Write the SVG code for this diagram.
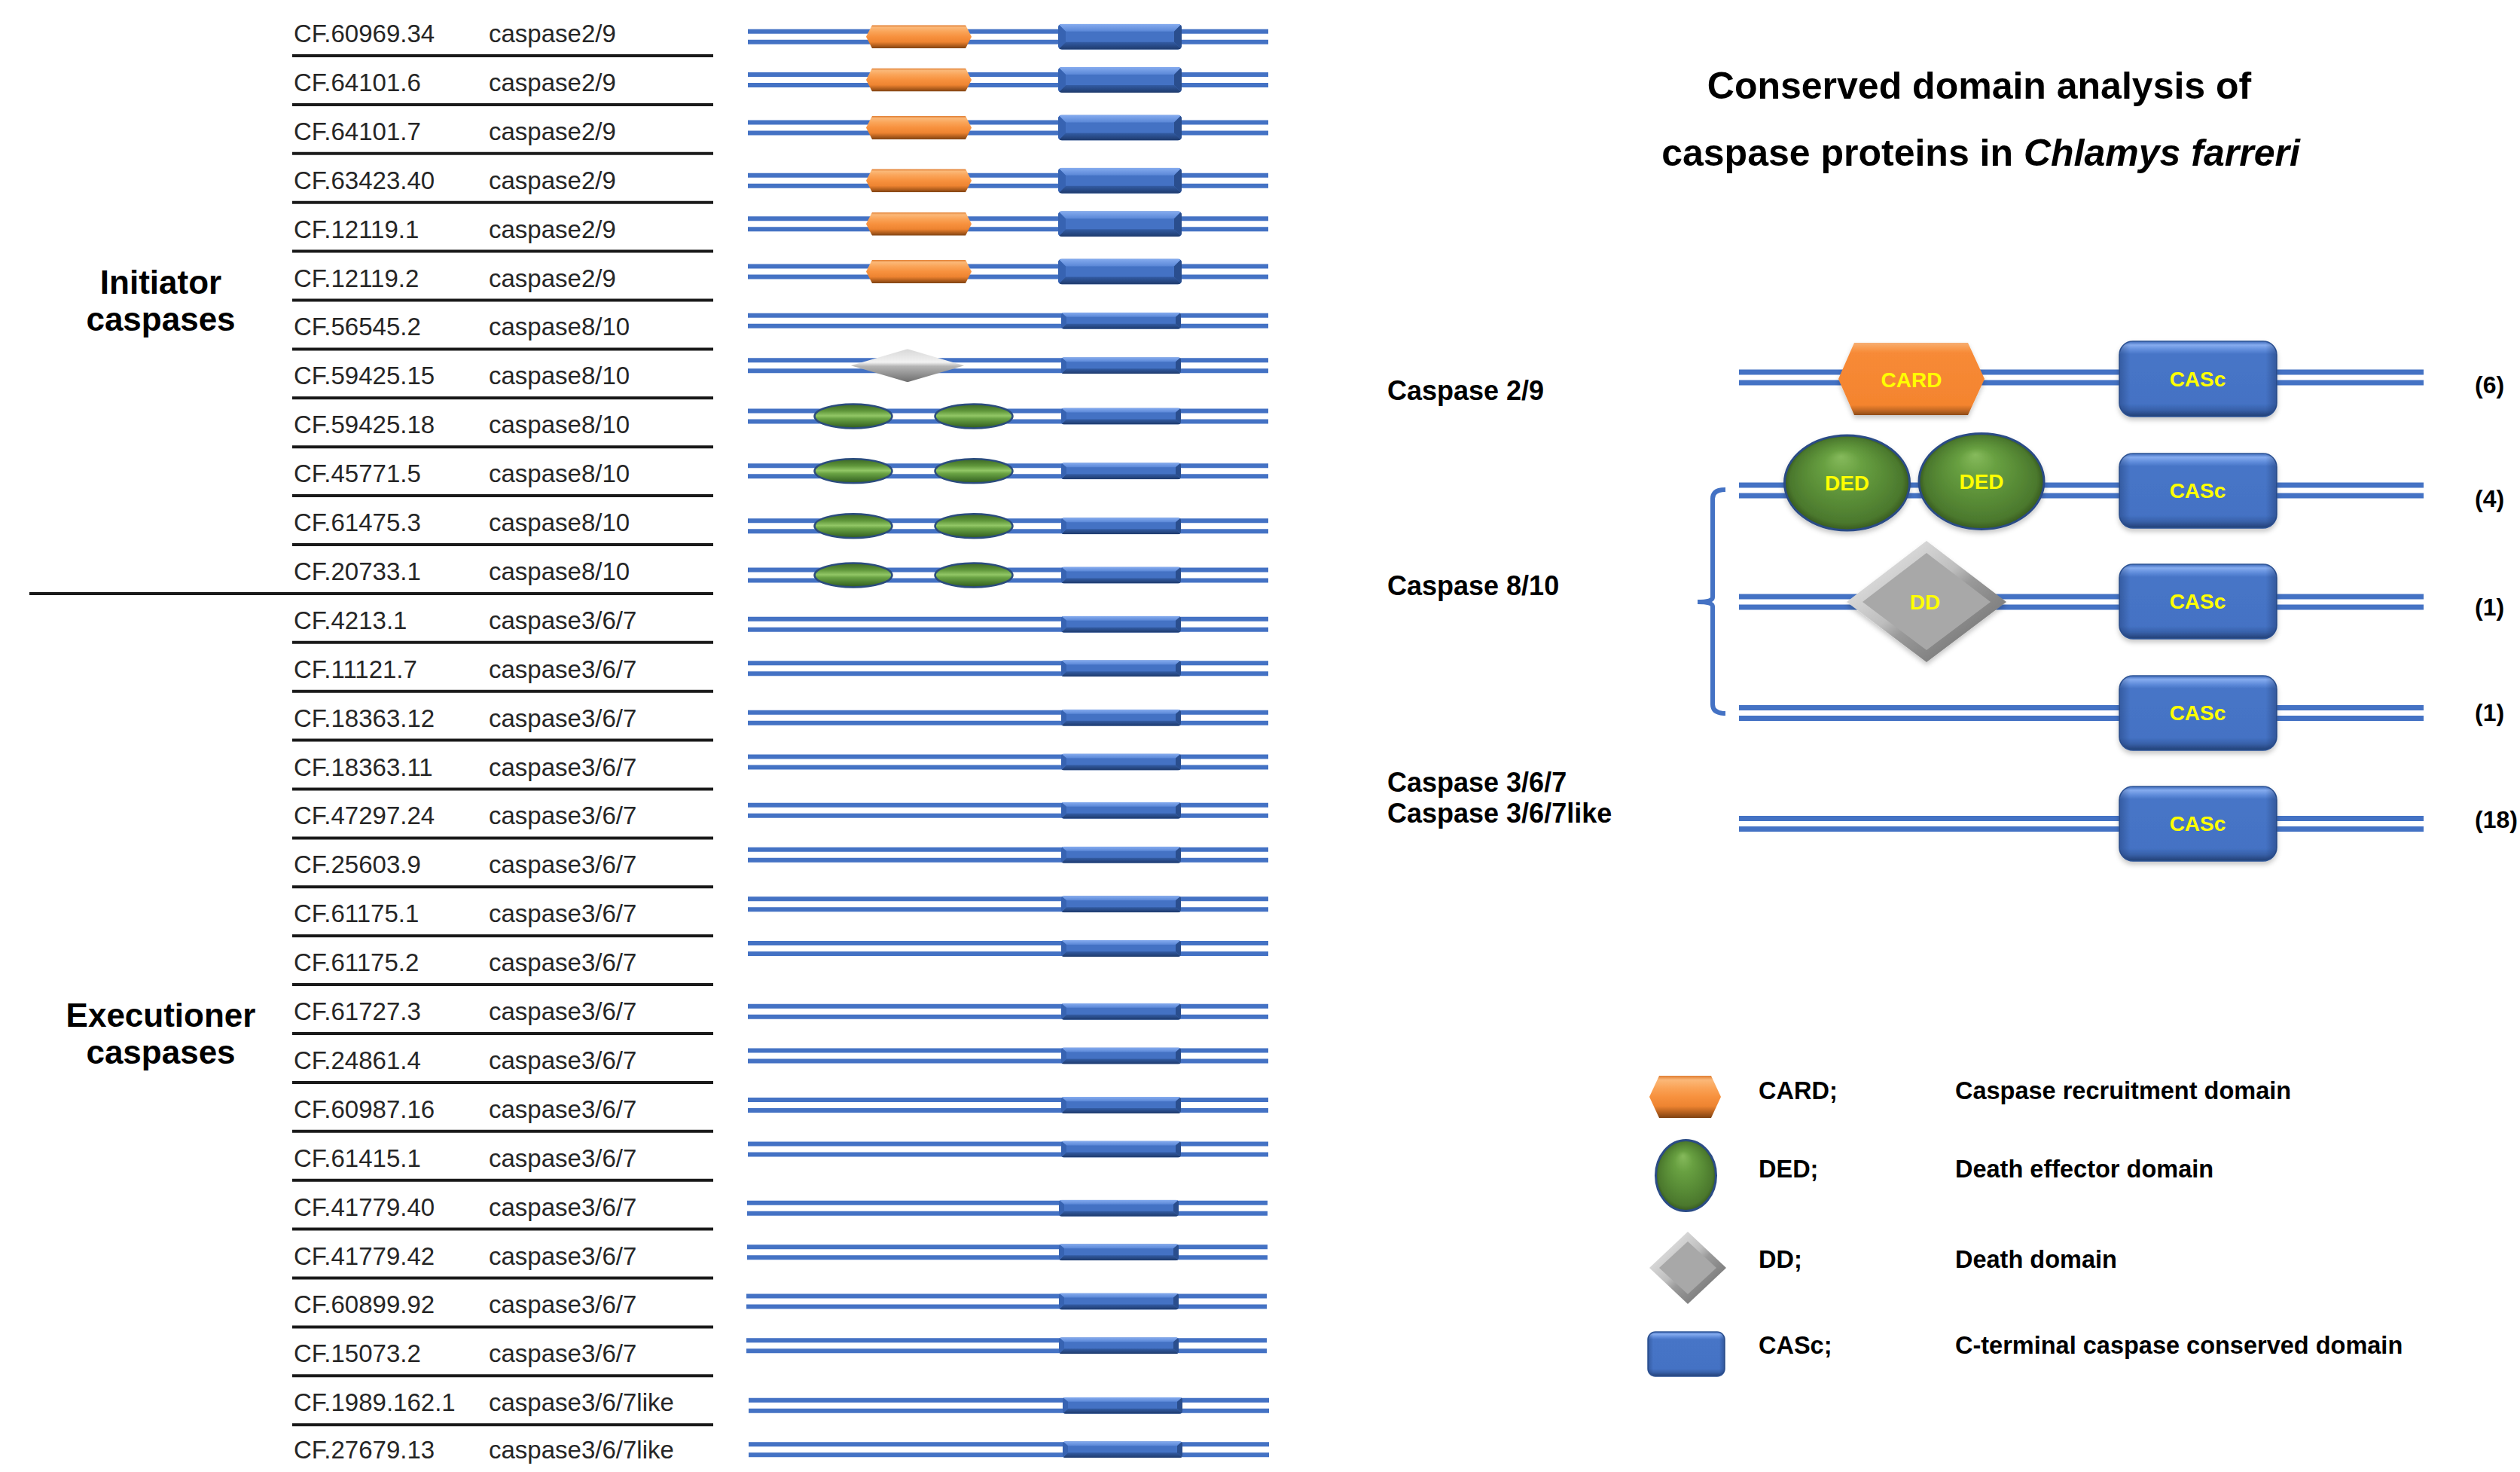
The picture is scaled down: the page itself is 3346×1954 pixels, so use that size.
<svg xmlns="http://www.w3.org/2000/svg" xmlns:xlink="http://www.w3.org/1999/xlink" width="3346" height="1954" viewBox="0 0 3346 1954">
<style>
.t{font-family:"Liberation Sans",Arial,sans-serif;font-size:33px;fill:#262626}
.lab{font-family:"Liberation Sans",Arial,sans-serif;font-weight:bold;font-size:44px;fill:#000;text-anchor:middle}
.title{font-family:"Liberation Sans",Arial,sans-serif;font-weight:bold;font-size:50px;fill:#000;text-anchor:middle}
.cl{font-family:"Liberation Sans",Arial,sans-serif;font-weight:bold;font-size:36px;fill:#000}
.cnt{font-family:"Liberation Sans",Arial,sans-serif;font-weight:bold;font-size:32px;fill:#000}
.dom{font-family:"Liberation Sans",Arial,sans-serif;font-weight:bold;font-size:28px;fill:#FFFF00;text-anchor:middle}
.lg{font-family:"Liberation Sans",Arial,sans-serif;font-weight:bold;font-size:32.5px;fill:#000}
.sep{stroke:#1a1a1a;stroke-width:4;fill:none}
.bb{stroke:#4472C4;stroke-width:6;fill:none}
.bbR{stroke:#4472C4;stroke-width:7;fill:none}
</style>
<defs>
<linearGradient id="gOr" x1="0" y1="0" x2="0" y2="1">
<stop offset="0" stop-color="#E07E33"/><stop offset="0.1" stop-color="#FBB878"/><stop offset="0.28" stop-color="#FAA458"/><stop offset="0.5" stop-color="#F7913E"/><stop offset="0.72" stop-color="#EE8431"/><stop offset="0.86" stop-color="#B8621F"/><stop offset="1" stop-color="#7F4212"/>
</linearGradient>
<linearGradient id="gCard" x1="0" y1="0" x2="0" y2="1">
<stop offset="0" stop-color="#F6AE74"/><stop offset="0.07" stop-color="#F99C50"/><stop offset="0.14" stop-color="#F78A37"/><stop offset="0.86" stop-color="#F4842E"/><stop offset="0.93" stop-color="#C66A25"/><stop offset="1" stop-color="#8F4C18"/>
</linearGradient>
<linearGradient id="gBlTop" x1="0" y1="0" x2="0" y2="1"><stop offset="0" stop-color="#86ACEF"/><stop offset="1" stop-color="#5A87D7"/></linearGradient>
<linearGradient id="gBlBot" x1="0" y1="0" x2="0" y2="1"><stop offset="0" stop-color="#335CA4"/><stop offset="1" stop-color="#1E3A6C"/></linearGradient>
<linearGradient id="gBlBig" x1="0" y1="0" x2="0" y2="1">
<stop offset="0" stop-color="#3C68B8"/><stop offset="0.05" stop-color="#86ACEF"/><stop offset="0.12" stop-color="#5D8AD9"/><stop offset="0.17" stop-color="#4775C7"/><stop offset="0.83" stop-color="#4472C4"/><stop offset="0.91" stop-color="#3861AA"/><stop offset="1" stop-color="#223F74"/>
</linearGradient>
<linearGradient id="gSide" x1="0" y1="0" x2="1" y2="0">
<stop offset="0" stop-color="#142C5C" stop-opacity="0.35"/><stop offset="0.07" stop-color="#142C5C" stop-opacity="0"/><stop offset="0.93" stop-color="#142C5C" stop-opacity="0"/><stop offset="1" stop-color="#142C5C" stop-opacity="0.4"/>
</linearGradient>
<radialGradient id="gGr" cx="0.5" cy="0.5" r="0.5" fx="0.45" fy="0.22">
<stop offset="0" stop-color="#86BA5C"/><stop offset="0.3" stop-color="#68A041"/><stop offset="0.65" stop-color="#578A35"/><stop offset="0.9" stop-color="#4B782D"/><stop offset="1" stop-color="#375A20"/>
</radialGradient>
<linearGradient id="gGrS" x1="0" y1="0" x2="0" y2="1">
<stop offset="0" stop-color="#3C6626"/><stop offset="0.28" stop-color="#5F963A"/><stop offset="0.48" stop-color="#92C766"/><stop offset="0.6" stop-color="#6AA344"/><stop offset="1" stop-color="#2E5A1D"/>
</linearGradient>
<linearGradient id="gGy" x1="0" y1="0" x2="1" y2="1">
<stop offset="0" stop-color="#F4F4F4"/><stop offset="0.45" stop-color="#BEBEBE"/><stop offset="0.55" stop-color="#9A9A9A"/><stop offset="1" stop-color="#646464"/>
</linearGradient>
<linearGradient id="gGyS" x1="0" y1="0" x2="0" y2="1">
<stop offset="0" stop-color="#D8D8D8"/><stop offset="0.4" stop-color="#F2F2F2"/><stop offset="0.52" stop-color="#B5B5B5"/><stop offset="1" stop-color="#6E6E6E"/>
</linearGradient>
<filter id="sh" x="-10%" y="-10%" width="120%" height="130%">
<feDropShadow dx="0" dy="4" stdDeviation="3" flood-color="#000" flood-opacity="0.22"/>
</filter>
<clipPath id="cpL"><rect x="0" y="0" width="164" height="34" rx="5"/></clipPath>
<clipPath id="cpT"><rect x="0" y="0" width="159" height="22" rx="4"/></clipPath>
<symbol id="cardS" viewBox="0 0 140 31" preserveAspectRatio="none">
<polygon points="8,0 132,0 140,15.5 132,31 8,31 0,15.5" fill="url(#gOr)"/>
</symbol>
<symbol id="cascL" viewBox="0 0 164 34" preserveAspectRatio="none">
<g clip-path="url(#cpL)">
<rect x="0" y="0" width="164" height="34" fill="#4472C4"/>
<polygon points="0,0 164,0 154,10 10,10" fill="url(#gBlTop)"/>
<polygon points="0,34 164,34 154,24 10,24" fill="url(#gBlBot)"/>
<polygon points="0,0 10,10 10,24 0,34" fill="#3763B2"/>
<polygon points="164,0 154,10 154,24 164,34" fill="#2A4E8E"/>
</g>
</symbol>
<symbol id="cascT" viewBox="0 0 159 22" preserveAspectRatio="none">
<g clip-path="url(#cpT)">
<rect x="0" y="0" width="159" height="22" fill="#4472C4"/>
<polygon points="0,0 159,0 152,6 7,6" fill="url(#gBlTop)"/>
<polygon points="0,22 159,22 152,15 7,15" fill="url(#gBlBot)"/>
<polygon points="0,0 7,6 7,15 0,22" fill="#3763B2"/>
<polygon points="159,0 152,6 152,15 159,22" fill="#2A4E8E"/>
</g>
</symbol>
<symbol id="dedS" viewBox="0 0 106 35" preserveAspectRatio="none">
<ellipse cx="53" cy="17.5" rx="51.5" ry="16" fill="url(#gGrS)" stroke="#2B4C7E" stroke-width="2.5"/>
</symbol>
<symbol id="ddS" viewBox="0 0 150 44" preserveAspectRatio="none">
<polygon points="0,22 75,0 150,22 75,44" fill="url(#gGyS)"/>
</symbol>
</defs>
<rect x="0" y="0" width="3346" height="1954" fill="#FFFFFF"/>

<g id="connectors">
<g id="separators">
<path class="sep" d="M388 74H947M388 138.9H947M388 203.8H947M388 268.7H947M388 333.6H947M388 398.5H947M388 463.4H947M388 528.3H947M388 593.2H947M388 658.1H947M388 723H947M388 852.8H947M388 917.7H947M388 982.6H947M388 1047.5H947M388 1112.4H947M388 1177.3H947M388 1242.2H947M388 1307.1H947M388 1372H947M388 1436.9H947M388 1501.8H947M388 1566.7H947M388 1631.6H947M388 1696.5H947M388 1761.4H947M388 1826.3H947M388 1891.2H947"/>
<path id="group-divider" class="sep" d="M39 787.9H947"/>
</g>
<path id="bracket" d="M2291 650 Q2274 650 2274 662 V793 Q2274 799 2254 799 Q2274 799 2274 805 V935 Q2274 947 2291 947" fill="none" stroke="#4472C4" stroke-width="6"/>
</g>

<g id="group-labels">
<text class="lab" x="213.5" y="390">Initiator</text>
<text class="lab" x="213.5" y="439">caspases</text>
<text class="lab" x="213.5" y="1363">Executioner</text>
<text class="lab" x="213.5" y="1412">caspases</text>
</g>

<g id="rows">
<g id="row-1"><text class="t" x="390" y="56">CF.60969.34</text><text class="t" x="649" y="56">caspase2/9</text>
<path class="bb" d="M993 41.8H1684M993 55.8H1684"/><use href="#cardS" x="1150" y="33.3" width="140" height="31"/><use href="#cascL" x="1405" y="31.8" width="164" height="34"/></g>
<g id="row-2"><text class="t" x="390" y="120.9">CF.64101.6</text><text class="t" x="649" y="120.9">caspase2/9</text>
<path class="bb" d="M993 99H1684M993 113H1684"/><use href="#cardS" x="1150" y="90.5" width="140" height="31"/><use href="#cascL" x="1405" y="89" width="164" height="34"/></g>
<g id="row-3"><text class="t" x="390" y="185.8">CF.64101.7</text><text class="t" x="649" y="185.8">caspase2/9</text>
<path class="bb" d="M993 162.5H1684M993 176.5H1684"/><use href="#cardS" x="1150" y="154" width="140" height="31"/><use href="#cascL" x="1405" y="152.5" width="164" height="34"/></g>
<g id="row-4"><text class="t" x="390" y="250.7">CF.63423.40</text><text class="t" x="649" y="250.7">caspase2/9</text>
<path class="bb" d="M993 232.8H1684M993 246.8H1684"/><use href="#cardS" x="1150" y="224.3" width="140" height="31"/><use href="#cascL" x="1405" y="222.8" width="164" height="34"/></g>
<g id="row-5"><text class="t" x="390" y="315.6">CF.12119.1</text><text class="t" x="649" y="315.6">caspase2/9</text>
<path class="bb" d="M993 290.3H1684M993 304.3H1684"/><use href="#cardS" x="1150" y="281.8" width="140" height="31"/><use href="#cascL" x="1405" y="280.3" width="164" height="34"/></g>
<g id="row-6"><text class="t" x="390" y="380.5">CF.12119.2</text><text class="t" x="649" y="380.5">caspase2/9</text>
<path class="bb" d="M993 353.5H1684M993 367.5H1684"/><use href="#cardS" x="1150" y="345" width="140" height="31"/><use href="#cascL" x="1405" y="343.5" width="164" height="34"/></g>
<g id="row-7"><text class="t" x="390" y="445.4">CF.56545.2</text><text class="t" x="649" y="445.4">caspase8/10</text>
<path class="bb" d="M993 418.8H1684M993 432.8H1684"/><use href="#cascT" x="1409" y="414.8" width="159" height="22"/></g>
<g id="row-8"><text class="t" x="390" y="510.3">CF.59425.15</text><text class="t" x="649" y="510.3">caspase8/10</text>
<path class="bb" d="M993 478.3H1684M993 492.3H1684"/><use href="#ddS" x="1130" y="463.3" width="150" height="44"/><use href="#cascT" x="1409" y="474.3" width="159" height="22"/></g>
<g id="row-9"><text class="t" x="390" y="575.2">CF.59425.18</text><text class="t" x="649" y="575.2">caspase8/10</text>
<path class="bb" d="M993 545.5H1684M993 559.5H1684"/><use href="#dedS" x="1080" y="535" width="106" height="35"/><use href="#dedS" x="1240" y="535" width="106" height="35"/><use href="#cascT" x="1409" y="541.5" width="159" height="22"/></g>
<g id="row-10"><text class="t" x="390" y="640.1">CF.45771.5</text><text class="t" x="649" y="640.1">caspase8/10</text>
<path class="bb" d="M993 618.3H1684M993 632.3H1684"/><use href="#dedS" x="1080" y="607.8" width="106" height="35"/><use href="#dedS" x="1240" y="607.8" width="106" height="35"/><use href="#cascT" x="1409" y="614.3" width="159" height="22"/></g>
<g id="row-11"><text class="t" x="390" y="705">CF.61475.3</text><text class="t" x="649" y="705">caspase8/10</text>
<path class="bb" d="M993 691.2H1684M993 705.2H1684"/><use href="#dedS" x="1080" y="680.7" width="106" height="35"/><use href="#dedS" x="1240" y="680.7" width="106" height="35"/><use href="#cascT" x="1409" y="687.2" width="159" height="22"/></g>
<g id="row-12"><text class="t" x="390" y="769.9">CF.20733.1</text><text class="t" x="649" y="769.9">caspase8/10</text>
<path class="bb" d="M993 756.5H1684M993 770.5H1684"/><use href="#dedS" x="1080" y="746" width="106" height="35"/><use href="#dedS" x="1240" y="746" width="106" height="35"/><use href="#cascT" x="1409" y="752.5" width="159" height="22"/></g>
<g id="row-13"><text class="t" x="390" y="834.8">CF.4213.1</text><text class="t" x="649" y="834.8">caspase3/6/7</text>
<path class="bb" d="M993 821.8H1684M993 835.8H1684"/><use href="#cascT" x="1409" y="817.8" width="159" height="22"/></g>
<g id="row-14"><text class="t" x="390" y="899.7">CF.11121.7</text><text class="t" x="649" y="899.7">caspase3/6/7</text>
<path class="bb" d="M993 880.3H1684M993 894.3H1684"/><use href="#cascT" x="1409" y="876.3" width="159" height="22"/></g>
<g id="row-15"><text class="t" x="390" y="964.6">CF.18363.12</text><text class="t" x="649" y="964.6">caspase3/6/7</text>
<path class="bb" d="M993 945.7H1684M993 959.7H1684"/><use href="#cascT" x="1409" y="941.7" width="159" height="22"/></g>
<g id="row-16"><text class="t" x="390" y="1029.5">CF.18363.11</text><text class="t" x="649" y="1029.5">caspase3/6/7</text>
<path class="bb" d="M993 1004.5H1684M993 1018.5H1684"/><use href="#cascT" x="1409" y="1000.5" width="159" height="22"/></g>
<g id="row-17"><text class="t" x="390" y="1094.4">CF.47297.24</text><text class="t" x="649" y="1094.4">caspase3/6/7</text>
<path class="bb" d="M993 1068.8H1684M993 1082.8H1684"/><use href="#cascT" x="1409" y="1064.8" width="159" height="22"/></g>
<g id="row-18"><text class="t" x="390" y="1159.3">CF.25603.9</text><text class="t" x="649" y="1159.3">caspase3/6/7</text>
<path class="bb" d="M993 1127.8H1684M993 1141.8H1684"/><use href="#cascT" x="1409" y="1123.8" width="159" height="22"/></g>
<g id="row-19"><text class="t" x="390" y="1224.2">CF.61175.1</text><text class="t" x="649" y="1224.2">caspase3/6/7</text>
<path class="bb" d="M993 1193.2H1684M993 1207.2H1684"/><use href="#cascT" x="1409" y="1189.2" width="159" height="22"/></g>
<g id="row-20"><text class="t" x="390" y="1289.1">CF.61175.2</text><text class="t" x="649" y="1289.1">caspase3/6/7</text>
<path class="bb" d="M993 1252H1684M993 1266H1684"/><use href="#cascT" x="1409" y="1248" width="159" height="22"/></g>
<g id="row-21"><text class="t" x="390" y="1354">CF.61727.3</text><text class="t" x="649" y="1354">caspase3/6/7</text>
<path class="bb" d="M993 1335.8H1684M993 1349.8H1684"/><use href="#cascT" x="1409" y="1331.8" width="159" height="22"/></g>
<g id="row-22"><text class="t" x="390" y="1418.9">CF.24861.4</text><text class="t" x="649" y="1418.9">caspase3/6/7</text>
<path class="bb" d="M993 1394.5H1684M993 1408.5H1684"/><use href="#cascT" x="1409" y="1390.5" width="159" height="22"/></g>
<g id="row-23"><text class="t" x="390" y="1483.8">CF.60987.16</text><text class="t" x="649" y="1483.8">caspase3/6/7</text>
<path class="bb" d="M993 1460H1684M993 1474H1684"/><use href="#cascT" x="1409" y="1456" width="159" height="22"/></g>
<g id="row-24"><text class="t" x="390" y="1548.7">CF.61415.1</text><text class="t" x="649" y="1548.7">caspase3/6/7</text>
<path class="bb" d="M993 1518.5H1684M993 1532.5H1684"/><use href="#cascT" x="1409" y="1514.5" width="159" height="22"/></g>
<g id="row-25"><text class="t" x="390" y="1613.6">CF.41779.40</text><text class="t" x="649" y="1613.6">caspase3/6/7</text>
<path class="bb" d="M992 1596.7H1683M992 1610.7H1683"/><use href="#cascT" x="1406" y="1592.7" width="159" height="22"/></g>
<g id="row-26"><text class="t" x="390" y="1678.5">CF.41779.42</text><text class="t" x="649" y="1678.5">caspase3/6/7</text>
<path class="bb" d="M992 1655.2H1683M992 1669.2H1683"/><use href="#cascT" x="1406" y="1651.2" width="159" height="22"/></g>
<g id="row-27"><text class="t" x="390" y="1743.4">CF.60899.92</text><text class="t" x="649" y="1743.4">caspase3/6/7</text>
<path class="bb" d="M991 1720.6H1682M991 1734.6H1682"/><use href="#cascT" x="1406" y="1716.6" width="159" height="22"/></g>
<g id="row-28"><text class="t" x="390" y="1808.3">CF.15073.2</text><text class="t" x="649" y="1808.3">caspase3/6/7</text>
<path class="bb" d="M991 1779.3H1682M991 1793.3H1682"/><use href="#cascT" x="1406" y="1775.3" width="159" height="22"/></g>
<g id="row-29"><text class="t" x="390" y="1873.2">CF.1989.162.1</text><text class="t" x="649" y="1873.2">caspase3/6/7like</text>
<path class="bb" d="M994 1858.8H1685M994 1872.8H1685"/><use href="#cascT" x="1411" y="1854.8" width="159" height="22"/></g>
<g id="row-30"><text class="t" x="390" y="1936">CF.27679.13</text><text class="t" x="649" y="1936">caspase3/6/7like</text>
<path class="bb" d="M994 1917.2H1685M994 1931.2H1685"/><use href="#cascT" x="1411" y="1913.2" width="159" height="22"/></g>
</g>

<g id="title">
<text class="title" x="2628" y="131">Conserved domain analysis of</text>
<text class="title" x="2630" y="220">caspase proteins in <tspan font-style="italic">Chlamys farreri</tspan></text>
</g>

<g id="scheme-2-9">
<text class="cl" x="1842" y="531">Caspase 2/9</text>
<path class="bbR" d="M2309 494H3218M2309 508H3218"/>
<polygon points="2462,455 2613,455 2635,503 2613,551 2462,551 2441,503" fill="url(#gCard)" filter="url(#sh)"/>
<text class="dom" x="2538" y="514" font-size="27">CARD</text>
<rect x="2814" y="453" width="209" height="100" rx="18" fill="url(#gBlBig)" stroke="#2F5597" stroke-width="1.5" filter="url(#sh)"/>
<rect x="2814" y="453" width="209" height="100" rx="18" fill="url(#gSide)"/>
<text class="dom" x="2918" y="513">CASc</text>
<text class="cnt" x="3286" y="522">(6)</text>
</g>

<g id="scheme-8-10">
<text class="cl" x="1842" y="790">Caspase 8/10</text>
<g id="scheme-8-10-ded">
<path class="bbR" d="M2309 644H3218M2309 658H3218"/>
<ellipse cx="2452.5" cy="641" rx="83" ry="63" fill="url(#gGr)" stroke="#2B4C86" stroke-width="3" filter="url(#sh)"/>
<text class="dom" x="2452.5" y="651">DED</text>
<ellipse cx="2631" cy="639" rx="83" ry="63.5" fill="url(#gGr)" stroke="#2B4C86" stroke-width="3" filter="url(#sh)"/>
<text class="dom" x="2631" y="649">DED</text>
<rect x="2814" y="602" width="209" height="99" rx="18" fill="url(#gBlBig)" stroke="#2F5597" stroke-width="1.5" filter="url(#sh)"/>
<rect x="2814" y="602" width="209" height="99" rx="18" fill="url(#gSide)"/>
<text class="dom" x="2918" y="661">CASc</text>
<text class="cnt" x="3286" y="673">(4)</text>
</g>
<g id="scheme-8-10-dd">
<path class="bbR" d="M2309 792H3218M2309 806H3218"/>
<polygon points="2558,718 2664,799 2558,879 2452,799" fill="url(#gGy)" filter="url(#sh)"/>
<polygon points="2558,734 2643,799 2558,863 2473,799" fill="#A8A8A8"/>
<text class="dom" x="2556" y="809" font-size="26">DD</text>
<rect x="2814" y="749" width="209" height="99" rx="18" fill="url(#gBlBig)" stroke="#2F5597" stroke-width="1.5" filter="url(#sh)"/>
<rect x="2814" y="749" width="209" height="99" rx="18" fill="url(#gSide)"/>
<text class="dom" x="2918" y="808">CASc</text>
<text class="cnt" x="3286" y="817">(1)</text>
</g>
<g id="scheme-8-10-casc">
<path class="bbR" d="M2309 939.5H3218M2309 953.5H3218"/>
<rect x="2814" y="897" width="209" height="99" rx="18" fill="url(#gBlBig)" stroke="#2F5597" stroke-width="1.5" filter="url(#sh)"/>
<rect x="2814" y="897" width="209" height="99" rx="18" fill="url(#gSide)"/>
<text class="dom" x="2918" y="956">CASc</text>
<text class="cnt" x="3286" y="957">(1)</text>
</g>
</g>

<g id="scheme-3-6-7">
<text class="cl" x="1842" y="1051">Caspase 3/6/7</text>
<text class="cl" x="1842" y="1092">Caspase 3/6/7like</text>
<path class="bbR" d="M2309 1086.5H3218M2309 1100.5H3218"/>
<rect x="2814" y="1044" width="209" height="99" rx="18" fill="url(#gBlBig)" stroke="#2F5597" stroke-width="1.5" filter="url(#sh)"/>
<rect x="2814" y="1044" width="209" height="99" rx="18" fill="url(#gSide)"/>
<text class="dom" x="2918" y="1103">CASc</text>
<text class="cnt" x="3286" y="1099">(18)</text>
</g>

<g id="legend">
<g id="legend-card">
<polygon points="2203,1428 2272,1428 2285,1456 2272,1484 2203,1484 2190,1456" fill="url(#gOr)"/>
<text class="lg" x="2335" y="1459">CARD;</text>
<text class="lg" x="2596" y="1459">Caspase recruitment domain</text>
</g>
<g id="legend-ded">
<ellipse cx="2238.5" cy="1560.5" rx="40" ry="47" fill="url(#gGr)" stroke="#2B4C86" stroke-width="3"/>
<text class="lg" x="2335" y="1563">DED;</text>
<text class="lg" x="2596" y="1563">Death effector domain</text>
</g>
<g id="legend-dd">
<polygon points="2241,1635 2292,1683 2241,1731 2190,1683" fill="url(#gGy)"/>
<polygon points="2241,1648 2279,1683 2241,1718 2203,1683" fill="#A8A8A8"/>
<text class="lg" x="2335" y="1683">DD;</text>
<text class="lg" x="2596" y="1683">Death domain</text>
</g>
<g id="legend-casc">
<rect x="2188" y="1768" width="102" height="59" rx="10" fill="url(#gBlBig)" stroke="#2F5597" stroke-width="1.5"/>
<rect x="2188" y="1768" width="102" height="59" rx="10" fill="url(#gSide)"/>
<text class="lg" x="2335" y="1797">CASc;</text>
<text class="lg" x="2596" y="1797">C-terminal caspase conserved domain</text>
</g>
</g>
</svg>
